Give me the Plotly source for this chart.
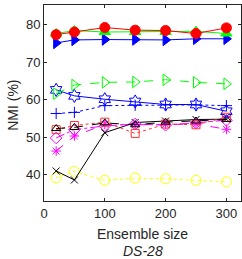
import plotly.graph_objects as go

ensemble_sizes = [20, 50, 100, 150, 200, 250, 300]

yellow_circle = [39.2, 40.9, 38.5, 39.1, 38.9, 38.5, 38.1]
black_x = [41.0, 38.6, 51.2, 53.9, 54.3, 54.7, 54.8]
magenta_asterisk = [46.3, 50.3, 53.4, 53.3, 53.4, 53.5, 52.1]
magenta_diamond = [49.8, 52.0, 53.0, 53.5, 53.2, 53.8, 54.5]
red_square = [52.0, 53.1, 54.0, 51.0, 53.5, 53.3, 55.3]
black_triangle = [52.3, 52.6, 53.8, 53.3, 54.0, 54.3, 54.7]
blue_plus = [56.3, 56.6, 58.4, 58.5, 58.6, 58.6, 58.4]
blue_hexagram = [62.6, 61.0, 60.1, 59.5, 58.7, 58.7, 56.9]
green_open_tri = [61.6, 63.9, 64.6, 64.7, 65.3, 64.6, 64.2]
blue_filled_tri = [75.1, 75.9, 76.0, 76.0, 75.9, 76.2, 76.2]
green_filled_tri = [77.6, 78.4, 78.0, 78.0, 78.0, 78.2, 77.6]
red_filled_circle = [77.3, 78.0, 79.2, 78.5, 78.4, 77.6, 79.1]

series = [
    (yellow_circle, "#FFFF00", "dot", "circle-open", 10),
    (black_x, "#000000", "solid", "x-thin-open", 7),
    (magenta_asterisk, "#FF00FF", "dash", "asterisk-open", 8),
    (magenta_diamond, "#FF00FF", "dashdot", "diamond-open", 9),
    (red_square, "#FF3333", "dot", "square-open", 8),
    (black_triangle, "#000000", "dash", "triangle-up-open", 8),
    (blue_plus, "#0000FF", "dot", "cross-thin-open", 8),
    (blue_hexagram, "#0000FF", "solid", "hexagram-open", 10),
    (green_open_tri, "#00FF00", "dash", "triangle-right-open", 10),
    (blue_filled_tri, "#0000FF", "solid", "triangle-right", 10),
    (green_filled_tri, "#00FF00", "solid", "triangle-up", 10),
    (red_filled_circle, "#FF0000", "solid", "circle", 10),
]

fig = go.Figure()
for vals, col, dash, sym, size in series:
    fig.add_trace(go.Scatter(
        x=ensemble_sizes, y=vals, mode="lines+markers",
        line=dict(color=col, width=1, dash=dash),
        marker=dict(symbol=sym, size=size, color=col,
                    line=dict(color=col, width=1)),
        showlegend=False,
    ))

FONT = "Liberation Sans, Arial"
axis_font = dict(family=FONT, size=13, color="#262626")
fig.update_xaxes(
    range=[0, 324], tickvals=[0, 100, 200, 300], ticks="inside", ticklen=3,
    tickcolor="#262626", showline=True, linecolor="#262626", linewidth=1,
    mirror="ticks", showgrid=False, zeroline=False, tickfont=axis_font,
    automargin=False,
)
fig.update_yaxes(
    range=[33, 85.2], tickvals=[40, 50, 60, 70, 80], ticks="inside", ticklen=3,
    tickcolor="#262626", showline=True, linecolor="#262626", linewidth=1,
    mirror="ticks", showgrid=False, zeroline=False, tickfont=axis_font,
    automargin=False,
)
title_font = dict(family=FONT, size=14, color="#262626")
fig.add_annotation(text="Ensemble size", xref="paper", yref="paper",
                   x=0.5, y=-0.167, yanchor="middle", showarrow=False, font=title_font)
fig.add_annotation(text="<i>DS-28</i>", xref="paper", yref="paper",
                   x=0.5, y=-0.255, yanchor="middle", showarrow=False, font=title_font)
fig.add_annotation(text="NMI (%)", xref="paper", yref="paper",
                   x=-0.158, y=0.49, xanchor="center", yanchor="middle",
                   textangle=-90, showarrow=False, font=title_font)
fig.update_layout(
    width=242, height=259,
    margin=dict(l=44, r=1, t=5, b=58, autoexpand=False),
    paper_bgcolor="white", plot_bgcolor="white",
)
fig.write_html("out.html", config={"displayModeBar": False},
               post_script="document.body.style.margin='0';document.body.style.overflow='hidden';")
